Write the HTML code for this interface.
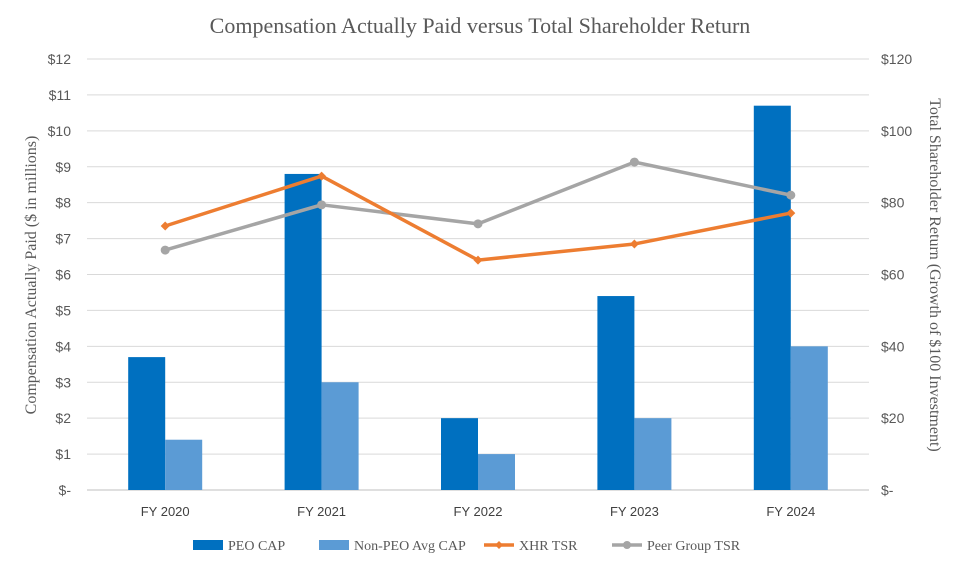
<!DOCTYPE html>
<html><head><meta charset="utf-8"><style>
body{margin:0;background:#fff;}
svg text{font-family:"Liberation Serif",serif;}
svg text.sans{font-family:"Liberation Sans",sans-serif;}
</style></head><body>
<svg id="c" width="961" height="563">
<text x="480" y="33" text-anchor="middle" font-size="22" fill="#595959">Compensation Actually Paid versus Total Shareholder Return</text>
<text transform="translate(36,275) rotate(-90)" text-anchor="middle" font-size="16" fill="#595959">Compensation Actually Paid ($ in millions)</text>
<text transform="translate(930,275) rotate(90)" text-anchor="middle" font-size="16" fill="#595959">Total Shareholder Return (Growth of $100 Investment)</text>
<g id="grid"></g><g id="bars"></g><g id="lines"></g><g id="ticks"></g>
<g id="legend"></g>
</svg>
<script>
const categories=["FY 2020","FY 2021","FY 2022","FY 2023","FY 2024"];
const peoCap=[3.7,8.8,2.0,5.4,10.7];
const nonPeoCap=[1.4,3.0,1.0,2.0,4.0];
const xhrTsr=[73.5,87.4,64.0,68.5,77.1];
const peerTsr=[66.8,79.4,74.1,91.3,82.1];
const leftTicks=["$-","$1","$2","$3","$4","$5","$6","$7","$8","$9","$10","$11","$12"];
const rightTicks=["$-","$20","$40","$60","$80","$100","$120"];
const NS="http://www.w3.org/2000/svg";
const L=87,R=869,T=59,B=490;
const bw=(R-L)/categories.length;
const xC=i=>L+bw*(i+0.5);
const yL=v=>B-(v/12)*(B-T);
const yR=v=>B-(v/120)*(B-T);
function mk(tag,attrs,parent){const e=document.createElementNS(NS,tag);for(const k in attrs)e.setAttribute(k,attrs[k]);document.getElementById(parent).appendChild(e);return e;}
leftTicks.forEach((t,i)=>{
 const y=yL(i);
 const g=mk("line",{x1:L,x2:R,y1:y,y2:y,stroke:i==0?"#bfbfbf":"#d9d9d9","stroke-width":1},"grid");
 
 
 const tx=mk("text",{x:71,y:y+5,"text-anchor":"end","font-size":14,fill:"#595959",class:"sans"},"ticks");tx.textContent=t;
 
 
});
rightTicks.forEach((t,i)=>{
 const tx=mk("text",{x:881,y:yR(i*20)+5,"font-size":14,fill:"#595959",class:"sans"},"ticks");tx.textContent=t;
 
 
});
categories.forEach((c,i)=>{
 const tx=mk("text",{x:xC(i),y:516,"text-anchor":"middle","font-size":13,fill:"#404040",class:"sans"},"ticks");tx.textContent=c;
 
 
 const b1=mk("rect",{x:xC(i)-37,y:yL(peoCap[i]),width:37,height:B-yL(peoCap[i]),fill:"#0070c0"},"bars");
 
 
 const b2=mk("rect",{x:xC(i),y:yL(nonPeoCap[i]),width:37,height:B-yL(nonPeoCap[i]),fill:"#5b9bd5"},"bars");
 
 
});
function series(vals,color,name,diamond){
 const p=mk("polyline",{points:vals.map((v,i)=>xC(i)+","+yR(v)).join(" "),fill:"none",stroke:color,"stroke-width":3.5,"stroke-linejoin":"round"},"lines");
 
 
 vals.forEach((v,i)=>{
  let m;
  if(diamond){const x=xC(i),y=yR(v);m=mk("polygon",{points:`${x},${y-4.5} ${x+4.5},${y} ${x},${y+4.5} ${x-4.5},${y}`,fill:color},"lines");}
  else m=mk("circle",{cx:xC(i),cy:yR(v),r:4.5,fill:color},"lines");
  
  
 });
}
series(peerTsr,"#a5a5a5","peer-tsr",false);
series(xhrTsr,"#ed7d31","xhr-tsr",true);
const leg=[["PEO CAP","#0070c0","bar",193],["Non-PEO Avg CAP","#5b9bd5","bar",319],["XHR TSR","#ed7d31","d",484],["Peer Group TSR","#a5a5a5","c",612]];
leg.forEach(([t,c,k,x])=>{
 let m;
 if(k=="bar")m=mk("rect",{x:x,y:540,width:30,height:10,fill:c},"legend");
 else{m=mk("line",{x1:x,x2:x+30,y1:545,y2:545,stroke:c,"stroke-width":3.5},"legend");
  if(k=="d")mk("polygon",{points:`${x+15},541 ${x+19},545 ${x+15},549 ${x+11},545`,fill:c},"legend");
  else mk("circle",{cx:x+15,cy:545,r:4,fill:c},"legend");}
 
 
 const tx=mk("text",{x:x+35,y:550,"font-size":14,fill:"#595959"},"legend");tx.textContent=t;
 
 
});
</script>
</body></html>
